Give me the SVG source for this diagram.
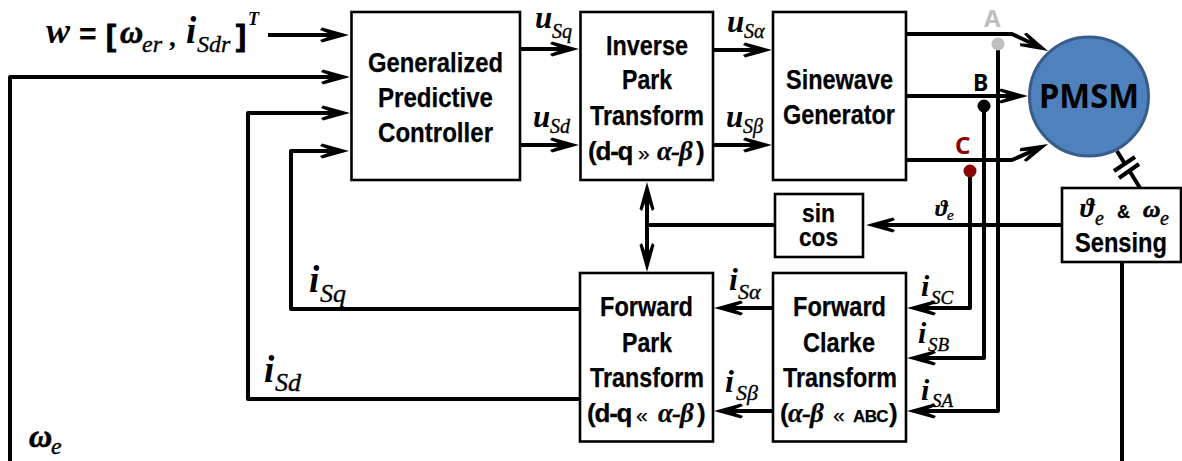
<svg xmlns="http://www.w3.org/2000/svg" width="1182" height="461" viewBox="0 0 1182 461">
<style>
.b{fill:#fff;stroke:#000;stroke-width:2.6}
.c{fill:none;stroke:#000;stroke-width:4;stroke-linejoin:round}
.t{font-family:"Liberation Sans",Arial,sans-serif;font-weight:700;font-size:28px;fill:#000;stroke:#000;stroke-width:.25}
.l{font-size:26px;letter-spacing:-1.2px}
.g{font-family:"Liberation Serif","Times New Roman",serif;font-style:italic;font-size:27px;letter-spacing:-1px}
.o{font-size:21px;font-weight:400;letter-spacing:0}
.m{font-family:"Liberation Serif","Times New Roman",serif;font-weight:700;font-style:italic;fill:#000}
.w{stroke:#000;stroke-width:.7}
.s{font-family:"Liberation Serif","Times New Roman",serif;font-style:italic;font-weight:400;stroke:#000;stroke-width:.35;fill:#000}
.k{font-family:"Noto Sans",sans-serif;font-weight:700}
</style>
<defs>
<marker id="a" markerUnits="userSpaceOnUse" markerWidth="32" markerHeight="18" refX="18" refY="8" orient="auto" overflow="visible">
<path d="M28 8L1 .5L-1 3L12 8L-1 13L1 15.500Z" fill="#000"/>
</marker>
</defs>
<rect width="1182" height="461" fill="#fff"/>
<g id="connectors">
<path class="c" d="M268 35H339" marker-end="url(#a)"/>
<path class="c" d="M10 461V77H340" marker-end="url(#a)"/>
<path class="c" d="M581 399H248V113H340" marker-end="url(#a)"/>
<path class="c" d="M581 309H291V151H339" marker-end="url(#a)"/>
<path class="c" d="M520 49H569" marker-end="url(#a)"/>
<path class="c" d="M520 145H569" marker-end="url(#a)"/>
<path class="c" d="M713 50H762" marker-end="url(#a)"/>
<path class="c" d="M713 145H762" marker-end="url(#a)"/>
<path class="c" d="M906 34H1012L1039 46.700" marker-end="url(#a)"/>
<path class="c" d="M906 96H1018" marker-end="url(#a)"/>
<path class="c" d="M906 160H1012L1039 148" marker-end="url(#a)"/>
<path class="c" d="M998 44V411H917" marker-end="url(#a)"/>
<path class="c" d="M984 106V358H917" marker-end="url(#a)"/>
<path class="c" d="M970 171V308H917" marker-end="url(#a)"/>
<path class="c" d="M1062 225H876" marker-end="url(#a)"/>
<path class="c" d="M775 225H647"/>
<path class="c" d="M647 225V192" marker-end="url(#a)"/>
<path class="c" d="M647 225V262" marker-end="url(#a)"/>
<path class="c" d="M773 308H724" marker-end="url(#a)"/>
<path class="c" d="M773 411H724" marker-end="url(#a)"/>
<path class="c" d="M1117 151L1125 164M1129 170L1140 188"/>
<path class="c" d="M1114 171L1135 157M1119 178L1139 164"/>
<path class="c" d="M1122 262V461"/>
<circle cx="998" cy="44" r="6.500" fill="#bfbfbf"/>
<circle cx="984" cy="106" r="6.500" fill="#000"/>
<circle cx="970" cy="171" r="6.500" fill="#8b0000"/>
</g>
<g id="gpc">
<rect class="b" x="351.500" y="12" width="168.500" height="168"/>
<text class="t" x="368" y="72" textLength="135" lengthAdjust="spacingAndGlyphs">Generalized</text>
<text class="t" x="378" y="107" textLength="115" lengthAdjust="spacingAndGlyphs">Predictive</text>
<text class="t" x="378" y="142" textLength="115" lengthAdjust="spacingAndGlyphs">Controller</text>
</g>
<g id="inverse-park">
<rect class="b" x="580.500" y="12" width="132.500" height="168"/>
<text class="t" x="606" y="55" textLength="82" lengthAdjust="spacingAndGlyphs">Inverse</text>
<text class="t" x="622" y="89" textLength="50" lengthAdjust="spacingAndGlyphs">Park</text>
<text class="t" x="590" y="125" textLength="114" lengthAdjust="spacingAndGlyphs">Transform</text>
<text class="t l" x="588" y="160">(d-q <tspan class="o" x="638">»</tspan><tspan class="g" x="657">α-β</tspan><tspan x="696">)</tspan></text>
</g>
<g id="sinewave">
<rect class="b" x="773" y="12" width="133" height="168"/>
<text class="t" x="786" y="89" textLength="107" lengthAdjust="spacingAndGlyphs">Sinewave</text>
<text class="t" x="783" y="124" textLength="112" lengthAdjust="spacingAndGlyphs">Generator</text>
</g>
<g id="pmsm">
<circle cx="1089" cy="96.500" r="59.500" fill="#4f81bd" stroke="#385d8a" stroke-width="3"/>
<text class="k" x="1039" y="108" font-size="34" textLength="100" lengthAdjust="spacingAndGlyphs">PMSM</text>
</g>
<g id="sensing">
<rect class="b" x="1062" y="188" width="119" height="74"/>
<text class="m" x="1080" y="217" font-size="27">ϑ<tspan class="s" x="1095" y="225" font-size="20">e</tspan></text>
<text class="t" x="1117" y="218" style="font-size:18px">&amp;</text>
<text class="m w" x="1143" y="217" font-size="24">ω<tspan class="s" x="1160" y="225" font-size="20">e</tspan></text>
<text class="t" x="1075" y="252" textLength="92" lengthAdjust="spacingAndGlyphs">Sensing</text>
</g>
<g id="sincos">
<rect class="b" x="775" y="194" width="88" height="63"/>
<text class="t" x="802" y="222" style="font-size:25px" textLength="33" lengthAdjust="spacingAndGlyphs">sin</text>
<text class="t" x="799" y="246" style="font-size:25px" textLength="39" lengthAdjust="spacingAndGlyphs">cos</text>
</g>
<g id="forward-park">
<rect class="b" x="580" y="273" width="133" height="168.500"/>
<text class="t" x="600" y="316" textLength="93" lengthAdjust="spacingAndGlyphs">Forward</text>
<text class="t" x="622" y="352" textLength="50" lengthAdjust="spacingAndGlyphs">Park</text>
<text class="t" x="590" y="387" textLength="114" lengthAdjust="spacingAndGlyphs">Transform</text>
<text class="t l" x="587" y="422">(d-q <tspan class="o" x="636">«</tspan><tspan class="g" x="658">α-β</tspan><tspan x="697">)</tspan></text>
</g>
<g id="forward-clarke">
<rect class="b" x="773" y="273" width="133" height="168.500"/>
<text class="t" x="793" y="316" textLength="93" lengthAdjust="spacingAndGlyphs">Forward</text>
<text class="t" x="803" y="352" textLength="72" lengthAdjust="spacingAndGlyphs">Clarke</text>
<text class="t" x="783" y="387" textLength="114" lengthAdjust="spacingAndGlyphs">Transform</text>
<text class="t l" x="780" y="422">(<tspan class="g" x="788">α-β</tspan><tspan class="o" x="833">«</tspan><tspan x="853" style="font-size:17px;letter-spacing:-.6px">ABC</tspan><tspan x="889">)</tspan></text>
</g>
<g id="labels">
<text class="m" x="46" y="43" font-size="36">w</text>
<text class="t" x="79" y="44" style="font-size:30px">=</text>
<text class="t" x="106" y="46" style="font-size:30px;stroke-width:1">[</text>
<text class="m w" x="120" y="43" font-size="32">ω<tspan class="s" x="142" y="52" font-size="24">er</tspan></text>
<text class="m" x="170" y="46" font-size="28">,</text>
<text class="m" x="186" y="43" font-size="37">i<tspan class="s" x="197" y="52" font-size="24">Sdr</tspan></text>
<text class="t" x="236" y="46" style="font-size:30px;stroke-width:1">]</text>
<text class="m" x="248" y="25" font-size="18">T</text>
<text class="m" x="535" y="28" font-size="31">u<tspan class="s" x="552" y="38" font-size="20">Sq</tspan></text>
<text class="m" x="533" y="127" font-size="31">u<tspan class="s" x="550" y="133" font-size="20">Sd</tspan></text>
<text class="m" x="727" y="32" font-size="31">u<tspan class="s" x="744" y="38" font-size="20">Sα</tspan></text>
<text class="m" x="726" y="127" font-size="31">u<tspan class="s" x="743" y="133" font-size="20">Sβ</tspan></text>
<text class="m" x="729" y="290" font-size="32">i<tspan class="s" x="738" y="299" font-size="22">Sα</tspan></text>
<text class="m" x="725" y="392" font-size="32">i<tspan class="s" x="736" y="400" font-size="22">Sβ</tspan></text>
<text class="m" x="921" y="296" font-size="30">i<tspan class="s" x="931" y="304" font-size="19">SC</tspan></text>
<text class="m" x="918" y="343" font-size="30">i<tspan class="s" x="928" y="351" font-size="19">SB</tspan></text>
<text class="m" x="921" y="400" font-size="30">i<tspan class="s" x="932" y="407" font-size="19">SA</tspan></text>
<text class="m" x="309" y="292" font-size="37">i<tspan class="s" x="320" y="302" font-size="26">Sq</tspan></text>
<text class="m" x="264" y="382" font-size="37">i<tspan class="s" x="275" y="391" font-size="26">Sd</tspan></text>
<text class="m w" x="29" y="447" font-size="32">ω<tspan class="s" x="51" y="454" font-size="24">e</tspan></text>
<text class="m" x="935" y="216" font-size="24">ϑ<tspan class="s" x="947" y="220" font-size="15">e</tspan></text>
<text class="k" x="984" y="27" font-size="24" fill="#bfbfbf">A</text>
<text class="k" x="973" y="91" font-size="23" fill="#000">B</text>
<text class="k" x="955" y="154" font-size="24" fill="#8b0000">C</text>
</g>
</svg>
